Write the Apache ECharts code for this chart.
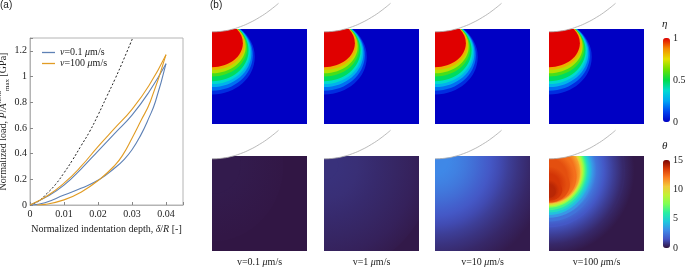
<!DOCTYPE html>
<html>
<head>
<meta charset="utf-8">
<script src="https://cdn.jsdelivr.net/npm/echarts@6/dist/echarts.min.js"></script>
<style>
html, body { margin: 0; padding: 0; background: #fff; }
#chart { width: 685px; height: 270px; }
</style>
</head>
<body>
<div id="chart"></div>
<script>
const SERIF = 'Liberation Serif';

// ---- (a) normalized load vs normalized indentation depth ----
const hertzDepth = [0, 0.0025, 0.005, 0.0075, 0.01, 0.0125, 0.015, 0.0175, 0.02, 0.0225, 0.025, 0.0275, 0.0302];
const hertzLoad = [0, 0.03, 0.09, 0.16, 0.25, 0.35, 0.46, 0.57, 0.70, 0.84, 0.98, 1.13, 1.30];

const slowLoadDepth = [0, 0.005, 0.01, 0.015, 0.02, 0.025, 0.03, 0.035, 0.04];
const slowLoadValue = [0, 0.065, 0.155, 0.28, 0.42, 0.56, 0.70, 0.88, 1.10];
const slowUnloadDepth = [0.04, 0.0369, 0.035, 0.0325, 0.03, 0.0275, 0.025, 0.0205, 0.015, 0.01, 0.0044, 0.0005];
const slowUnloadValue = [1.10, 0.806, 0.68, 0.54, 0.43, 0.35, 0.29, 0.20, 0.13, 0.078, 0.018, 0];

const fastLoadDepth = [0, 0.005, 0.01, 0.015, 0.02, 0.025, 0.03, 0.035, 0.04];
const fastLoadValue = [0, 0.07, 0.17, 0.30, 0.455, 0.60, 0.745, 0.93, 1.17];
const fastUnloadDepth = [0.04, 0.0354, 0.0325, 0.03, 0.0273, 0.025, 0.0205, 0.015, 0.01, 0.0044, 0.002];
const fastUnloadValue = [1.17, 0.806, 0.65, 0.52, 0.39, 0.31, 0.20, 0.10, 0.04, 0.005, 0];

// ---- (b) field contours, outermost first ----
// [value on the contour, centre depth, half width, half depth], square is 1 x 1 (depth down)
const speeds = ['0.1', '1', '10', '100'];
const etaBands = [
  [0, 0.5, 9, 9],
  [0.08, 0.294, 0.45, 0.395],
  [0.18, 0.274, 0.43, 0.376],
  [0.28, 0.254, 0.415, 0.356],
  [0.38, 0.239, 0.40, 0.341],
  [0.48, 0.224, 0.385, 0.326],
  [0.58, 0.200, 0.37, 0.300],
  [0.70, 0.183, 0.355, 0.282],
  [0.82, 0.165, 0.345, 0.265],
  [1.00, 0.150, 0.325, 0.252]
];
const thetaBands01 = [
  [0.1, 0.5, 9, 9],
  [0.12, 0.1, 0.75, 0.8],
  [0.2, 0.1, 0.3, 0.3]
];
const thetaBands1 = [
  [0.15, 0.5, 9, 9],
  [0.2, 0.1, 1.15, 1.15],
  [0.35, 0.1, 0.95, 0.95],
  [0.45, 0.1, 0.75, 0.75],
  [0.55, 0.1, 0.55, 0.55],
  [0.65, 0.1, 0.35, 0.35],
  [0.7, 0.1, 0.15, 0.15]
];
const thetaBands10 = [
  [0.2, 0.5, 9, 9],
  [0.2, 0.05, 1.2, 1.2],
  [0.5, 0.05, 1.0, 1.0],
  [0.75, 0.05, 0.88, 0.88],
  [1.0, 0.05, 0.78, 0.78],
  [1.3, 0.05, 0.68, 0.68],
  [1.6, 0.05, 0.58, 0.58],
  [1.9, 0.05, 0.5, 0.5],
  [2.2, 0.05, 0.42, 0.42],
  [2.5, 0.05, 0.33, 0.33],
  [2.75, 0.05, 0.24, 0.24],
  [2.95, 0.05, 0.14, 0.14]
];
const thetaBands100 = [
  [0.15, 0.5, 9, 9],
  [0.15, 0.15, 0.95, 0.9],
  [0.5, 0.15, 0.8, 0.78],
  [1.0, 0.15, 0.68, 0.68],
  [1.6, 0.15, 0.58, 0.6],
  [2.4, 0.15, 0.5, 0.54],
  [3.3, 0.15, 0.46, 0.5],
  [4.3, 0.15, 0.43, 0.47],
  [5.3, 0.15, 0.405, 0.445],
  [6.5, 0.15, 0.385, 0.42],
  [7.7, 0.15, 0.365, 0.395],
  [8.9, 0.16, 0.35, 0.37],
  [10.2, 0.17, 0.335, 0.345],
  [11.3, 0.18, 0.32, 0.32],
  [12.3, 0.22, 0.29, 0.27],
  [13.0, 0.30, 0.22, 0.19],
  [13.6, 0.36, 0.14, 0.11],
  [14.0, 0.38, 0.07, 0.06]
];
const thetaBandSets = [thetaBands01, thetaBands1, thetaBands10, thetaBands100];

// indenter profile over each square
const indenterX = [0, 0.1, 0.2, 0.3, 0.4, 0.5, 0.6, 0.7];
const indenterY = [0.03, 0.024, 0.006, -0.025, -0.068, -0.123, -0.19, -0.27];

const etaColors = ['#0000c4', '#0046f0', '#00a6f4', '#00dcd2', '#00dc48', '#6ee000', '#e6e000', '#f48a00', '#e00000'];
const thetaColors = ['#30123b', '#4454c4', '#3f8ae8', '#1fc9dd', '#29efa2', '#7eff55', '#c1f334', '#f1ca3a', '#fb7e21', '#d93806', '#7a0403'];
const thetaMax = 15;

// layout
const cellLeft = [212, 324, 435, 549];
const rowTop = [29, 156];
const cellSize = 95;

const pair = (xs, ys) => xs.map((x, i) => [x, ys[i]]);
const txt = { fontFamily: SERIF, fontSize: 10, color: '#222' };
const rich = {
  i: { fontFamily: SERIF, fontSize: 10, fontStyle: 'italic', color: '#222' },
  n: { fontFamily: SERIF, fontSize: 10, color: '#222' },
  sup: { fontFamily: SERIF, fontSize: 7, color: '#222', verticalAlign: 'top', lineHeight: 7 },
  sub: { fontFamily: SERIF, fontSize: 7, color: '#222', verticalAlign: 'bottom', lineHeight: 7 }
};

// flat bands for eta, smooth (radial blend to the next contour) for theta
function bandRenderer(bands, blend) {
  return function (params, api) {
    const c = api.coord([0, api.value(1)]);
    const s = api.size([api.value(2), api.value(3)]);
    let fill = api.visual('color');
    const inner = bands[params.dataIndex + 1];
    if (blend && inner && params.dataIndex > 0) {
      const t0 = Math.min(inner[2], inner[3]) / Math.min(api.value(2), api.value(3));
      const innerColor = echarts.color.lerp(inner[0] / thetaMax, thetaColors);
      fill = {
        type: 'radial', x: 0.5, y: 0.5, r: 0.5, global: false,
        colorStops: [
          { offset: 0, color: innerColor },
          { offset: Math.min(t0, 0.999), color: innerColor },
          { offset: 1, color: fill }
        ]
      };
    }
    return {
      type: 'ellipse',
      shape: { cx: c[0], cy: c[1], rx: s[0], ry: s[1] },
      style: { fill: fill }
    };
  };
}

const grids = [{ left: 30, top: 38, width: 153, height: 167, show: true, borderColor: '#b4b4b4', borderWidth: 1, outerBoundsMode: 'none' }];
const xAxes = [{
  gridIndex: 0, type: 'value', min: 0, max: 0.045, interval: 0.01,
  axisLine: { lineStyle: { color: '#b4b4b4' } },
  axisTick: { inside: true, length: 3, lineStyle: { color: '#888' } },
  splitLine: { show: false },
  axisLabel: Object.assign({ margin: 4, formatter: v => Math.abs(v * 100 - Math.round(v * 100)) < 1e-6 ? String(+v.toFixed(2)) : '' }, txt),
  name: 'Normalized indentation depth, {i|δ}/{i|R} [-]',
  nameLocation: 'middle', nameGap: 17,
  nameTextStyle: Object.assign({ rich: rich }, txt)
}];
const yAxes = [{
  gridIndex: 0, type: 'value', min: 0, max: 1.3, interval: 0.2,
  axisLine: { lineStyle: { color: '#b4b4b4' } },
  axisTick: { inside: true, length: 3, lineStyle: { color: '#888' } },
  splitLine: { show: false },
  axisLabel: Object.assign({ margin: 3, formatter: v => Math.abs(v * 5 - Math.round(v * 5)) < 1e-6 ? String(+v.toFixed(1)) : '' }, txt),
  name: 'Normalized load, {i|P}/{i|A}{sup|nom}{sub|max} [GPa]',
  nameLocation: 'middle', nameGap: 18,
  nameTextStyle: Object.assign({ rich: rich, lineHeight: 15 }, txt)
}];

const series = [
  { name: 'hertz', type: 'line', xAxisIndex: 0, yAxisIndex: 0, data: pair(hertzDepth, hertzLoad), smooth: true, symbol: 'none', color: '#222', lineStyle: { color: '#222', width: 1, type: [2, 2] } },
  { name: 'slow', type: 'line', xAxisIndex: 0, yAxisIndex: 0, data: pair(slowLoadDepth, slowLoadValue), smooth: true, symbol: 'none', color: '#5E81B5', lineStyle: { width: 1.1 } },
  { name: 'slow', type: 'line', xAxisIndex: 0, yAxisIndex: 0, data: pair(slowUnloadDepth, slowUnloadValue), smooth: true, symbol: 'none', color: '#5E81B5', lineStyle: { width: 1.1 } },
  { name: 'fast', type: 'line', xAxisIndex: 0, yAxisIndex: 0, data: pair(fastLoadDepth, fastLoadValue), smooth: true, symbol: 'none', color: '#E19C24', lineStyle: { width: 1.1 } },
  { name: 'fast', type: 'line', xAxisIndex: 0, yAxisIndex: 0, data: pair(fastUnloadDepth, fastUnloadValue), smooth: true, symbol: 'none', color: '#E19C24', lineStyle: { width: 1.1 } }
];

const etaSeriesIdx = [];
const thetaSeriesIdx = [];
for (let row = 0; row < 2; row++) {
  for (let col = 0; col < 4; col++) {
    const g = grids.length;
    const bands = row === 0 ? etaBands : thetaBandSets[col];
    grids.push({ left: cellLeft[col], top: rowTop[row], width: cellSize, height: cellSize, outerBoundsMode: 'none' });
    xAxes.push({
      gridIndex: g, type: 'value', min: 0, max: 1, show: row === 1,
      axisLine: { show: false }, axisTick: { show: false }, axisLabel: { show: false }, splitLine: { show: false },
      name: row === 1 ? '{n|v=' + speeds[col] + ' }{i|μ}{n|m/s}' : '',
      nameLocation: 'middle', nameGap: 6,
      nameTextStyle: Object.assign({ rich: rich }, txt)
    });
    yAxes.push({ gridIndex: g, type: 'value', min: 0, max: 1, inverse: true, show: false, splitLine: { show: false } });
    (row === 0 ? etaSeriesIdx : thetaSeriesIdx).push(series.length);
    series.push({
      type: 'custom', xAxisIndex: g, yAxisIndex: g, silent: true, clip: true,
      data: bands,
      renderItem: bandRenderer(bands, row === 1)
    });
    series.push({
      type: 'line', xAxisIndex: g, yAxisIndex: g, silent: true, clip: false, smooth: true, symbol: 'none',
      data: pair(indenterX, indenterY),
      lineStyle: { color: '#a8a8a8', width: 0.8 },
      areaStyle: { color: '#fff', opacity: 1, origin: 'start' },
      z: 3
    });
  }
}

// colour bar axes
const barSpecs = [{ top: 38, height: 84, max: 1, interval: 0.5 }, { top: 160, height: 88, max: thetaMax, interval: 5 }];
barSpecs.forEach(b => {
  const g = grids.length;
  grids.push({ left: 663, top: b.top, width: 7, height: b.height, outerBoundsMode: 'none' });
  xAxes.push({ gridIndex: g, type: 'value', show: false });
  yAxes.push({
    gridIndex: g, type: 'value', position: 'right', min: 0, max: b.max, interval: b.interval,
    axisLine: { show: false }, axisTick: { show: false }, splitLine: { show: false },
    axisLabel: Object.assign({ margin: 3 }, txt)
  });
});

const titleStyle = { fontFamily: 'Liberation Sans', fontSize: 10, fontWeight: 'normal', color: '#222' };
const symStyle = { fontFamily: SERIF, fontSize: 11, fontStyle: 'italic', fontWeight: 'normal', color: '#222' };

const option = {
  animation: false,
  title: [
    { text: '(a)', left: 0, top: 0, padding: 0, textStyle: titleStyle },
    { text: '(b)', left: 210, top: 0, padding: 0, textStyle: titleStyle },
    { text: 'η', left: 662, top: 19, padding: 0, textStyle: symStyle },
    { text: 'θ', left: 662, top: 141, padding: 0, textStyle: symStyle }
  ],
  legend: {
    data: ['slow', 'fast'], left: 42, top: 47, orient: 'vertical', padding: 0,
    icon: 'rect', itemWidth: 13, itemHeight: 1.3, itemGap: 0,
    formatter: n => n === 'slow' ? '{i|v}{n|=0.1 }{i|μ}{n|m/s}' : '{i|v}{n|=100 }{i|μ}{n|m/s}',
    textStyle: Object.assign({ rich: rich, lineHeight: 11 }, txt)
  },
  visualMap: [
    {
      type: 'continuous', min: 0, max: 1, dimension: 0, seriesIndex: etaSeriesIdx,
      inRange: { color: etaColors }, left: 663, top: 38, itemWidth: 7, itemHeight: 84,
      padding: 0, calculable: false, hoverLink: false
    },
    {
      type: 'continuous', min: 0, max: thetaMax, dimension: 0, seriesIndex: thetaSeriesIdx,
      inRange: { color: thetaColors }, left: 663, top: 160, itemWidth: 7, itemHeight: 88,
      padding: 0, calculable: false, hoverLink: false
    }
  ],
  grid: grids,
  xAxis: xAxes,
  yAxis: yAxes,
  series: series
};

const chart = echarts.init(document.getElementById('chart'));
chart.setOption(option);
</script>
</body>
</html>
